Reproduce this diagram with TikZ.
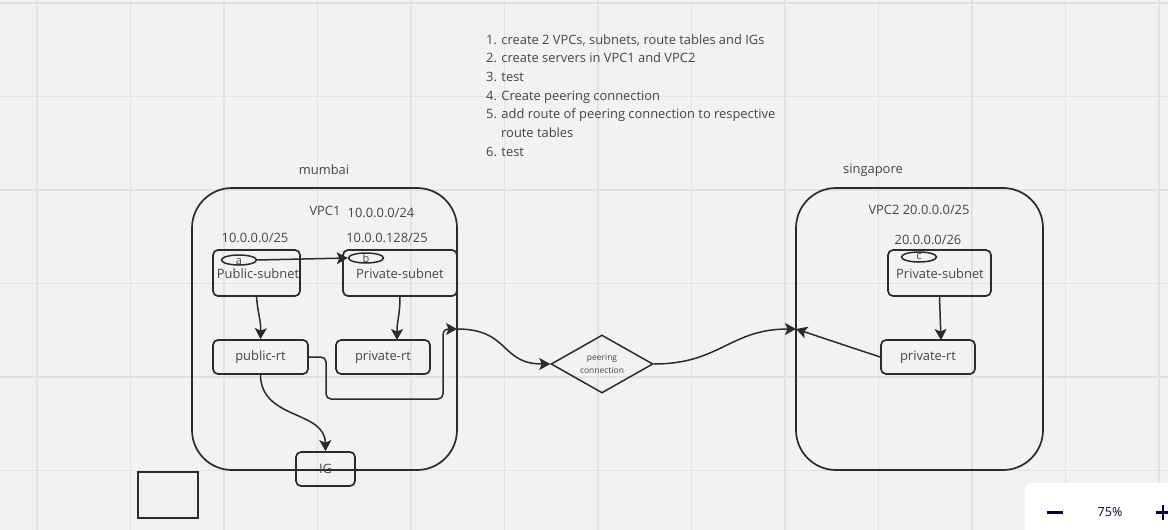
\documentclass[tikz,border=0pt]{standalone}
\usepackage{fontspec}
\setmainfont{Open Sans}
\usetikzlibrary{shapes.geometric,arrows.meta}
\definecolor{bg}{HTML}{F2F2F2}
\definecolor{gridc}{HTML}{E2E2E2}
\definecolor{ink}{HTML}{2B2B2B}
\definecolor{txt}{HTML}{454545}
\definecolor{navy}{HTML}{050038}
\newcommand{\mainsz}{\fontsize{12.9}{15}\selectfont}
\tikzset{
  lbl/.style={text=txt,font=\mainsz,inner sep=0pt},
  vpcbox/.style={draw=ink,line width=1.7pt,rounded corners=40pt,inner sep=0pt},
  rbox/.style={draw=ink,line width=1.7pt,rounded corners=5pt,inner sep=0pt,text=txt,font=\mainsz},
  oval/.style={draw=ink,line width=1.5pt,ellipse,inner sep=0pt,minimum width=35pt,minimum height=10pt},
  conn/.style={draw=ink,line width=1.5pt,-{Stealth[length=11pt,width=12pt,inset=2.5pt]}},
  listline/.style={text=txt,font=\mainsz,inner sep=0pt,anchor=base west},
}
\begin{document}
\begin{tikzpicture}[x=1pt,y=-1pt]
\useasboundingbox (0,0) rectangle (1168,530);
\fill[bg] (0,0) rectangle (1168,530);
\foreach \i in {0,...,12} \draw[gridc,line width=1.2pt] ({37+93.5*\i},0) -- ({37+93.5*\i},530);
\foreach \i in {0,...,5} \draw[gridc,line width=1.2pt] (0,{3+93.5*\i}) -- (1168,{3+93.5*\i});

% instructions
\node[listline] (l1) at (486,44) {1. create 2 VPCs, subnets, route tables and IGs};
\node[listline] (l2) at (486,62.5) {2. create servers in VPC1 and VPC2};
\node[listline] (l3) at (486,81) {3. test};
\node[listline] (l4) at (486,100) {4. Create peering connection};
\node[listline] (l5) at (486,118.5) {5. add route of peering connection to respective};
\node[listline] (l6) at (501,137) {route tables};
\node[listline] (l7) at (486,156) {6. test};

% VPC1
\node[lbl] (mumbai) at (324,170) {mumbai};
\node[vpcbox,minimum width=265pt,minimum height=282pt] (vpc1) at (324.5,329) {};
\node[lbl] (vpc1t) at (325,211) {VPC1};
\node[lbl] (cidr1) at (381,213) {10.0.0.0/24};
\node[lbl] (cidrpub) at (255,238) {10.0.0.0/25};
\node[lbl] (cidrpriv) at (387,238) {10.0.0.128/25};
\node[rbox,minimum width=87pt,minimum height=46pt] (pubsub) at (256.5,273) {};
\node[text=txt,font=\mainsz,inner sep=0pt] (pubsubt) at (258,274) {Public-subnet};
\node[oval] (a) at (239,260) {};
\node[text=txt,font=\fontsize{11}{12}\selectfont,inner sep=0pt] (at) at (239,262) {a};
\node[rbox,minimum width=114pt,minimum height=46pt] (privsub) at (400,273) {};
\node[text=txt,font=\mainsz,inner sep=0pt] (privsubt) at (400,274) {Private-subnet};
\node[oval] (b) at (366,258) {};
\node[text=txt,font=\fontsize{11}{12}\selectfont,inner sep=0pt] (bt) at (366,258.5) {b};
\node[rbox,minimum width=95pt,minimum height=34pt] (pubrt) at (260.5,357) {public-rt};
\node[rbox,minimum width=94pt,minimum height=34pt] (privrt) at (383,357) {private-rt};
\node[rbox,minimum width=59pt,minimum height=34pt] (ig) at (325.5,469) {IG};
\node[draw=ink,line width=1.6pt,minimum width=60pt,minimum height=46pt,inner sep=0pt] (sq) at (168,495) {};

\coordinate (v1r) at (457,329);
\coordinate (pr1) at (326,357);
\coordinate (pr2) at (326,399);
\coordinate (pr3) at (443,399);
\coordinate (pr4) at (443,329);
\coordinate (privrtin) at (397,340);

\draw[conn] (a.east) -- (b.west);
\draw[conn] (pubsub.south) .. controls (258,315) and (261,320) .. (pubrt.north);
\draw[conn] (privsub.south) .. controls (400,315) and (397,320) .. (privrtin);
\draw[conn,rounded corners=5pt] (pubrt.east) -- (pr1) -- (pr2) -- (pr3) -- (pr4) -- (v1r);
\draw[conn] (pubrt.south) .. controls (261,420) and (325,410) .. (ig.north);

% peering
\node[draw=ink,line width=1.5pt,diamond,minimum width=102pt,minimum height=58pt,inner sep=0pt,aspect=1.75] (peer) at (602,364) {};
\node[text=txt,font=\fontsize{8.5}{12.5}\selectfont,align=center,inner sep=0pt] (peert) at (602,364) {peering\\connection};
\draw[conn] (v1r) .. controls (510,329) and (500,364) .. (peer.west);

% VPC2
\node[lbl] (sing) at (873,170) {singapore};
\node[vpcbox,minimum width=247pt,minimum height=282pt] (vpc2) at (919.5,329) {};
\node[lbl] (vpc2t) at (919,210) {VPC2 20.0.0.0/25};
\node[lbl] (cidr2) at (928,240) {20.0.0.0/26};
\node[rbox,minimum width=103pt,minimum height=46pt] (privsub2) at (939.5,273) {};
\node[text=txt,font=\mainsz,inner sep=0pt] (privsub2t) at (940,274) {Private-subnet};
\node[oval] (c) at (919,257) {};
\node[text=txt,font=\fontsize{11}{12}\selectfont,inner sep=0pt] (ct) at (919,257) {c};
\node[rbox,minimum width=94pt,minimum height=34pt] (privrt2) at (928,357) {private-rt};
\coordinate (v2l) at (796,329);
\coordinate (privrt2in) at (941,340);

\draw[conn] (peer.east) .. controls (720,364) and (730,329) .. (v2l);
\draw[conn] (privsub2.south) -- (privrt2in);
\draw[conn] (privrt2.west) -- (v2l);

% zoom widget
\fill[white,rounded corners=6pt] (1025,483) rectangle (1190,560);
\draw[navy,line width=2.6pt] (1047,512.5) -- (1063,512.5);
\node[text=navy,font=\fontsize{12.5}{14}\selectfont,inner sep=0pt] (zoomt) at (1110,512) {75\%};
\draw[navy,line width=2.6pt] (1156,512.5) -- (1170,512.5);
\draw[navy,line width=2.6pt] (1163,505) -- (1163,520);
\end{tikzpicture}
\end{document}
